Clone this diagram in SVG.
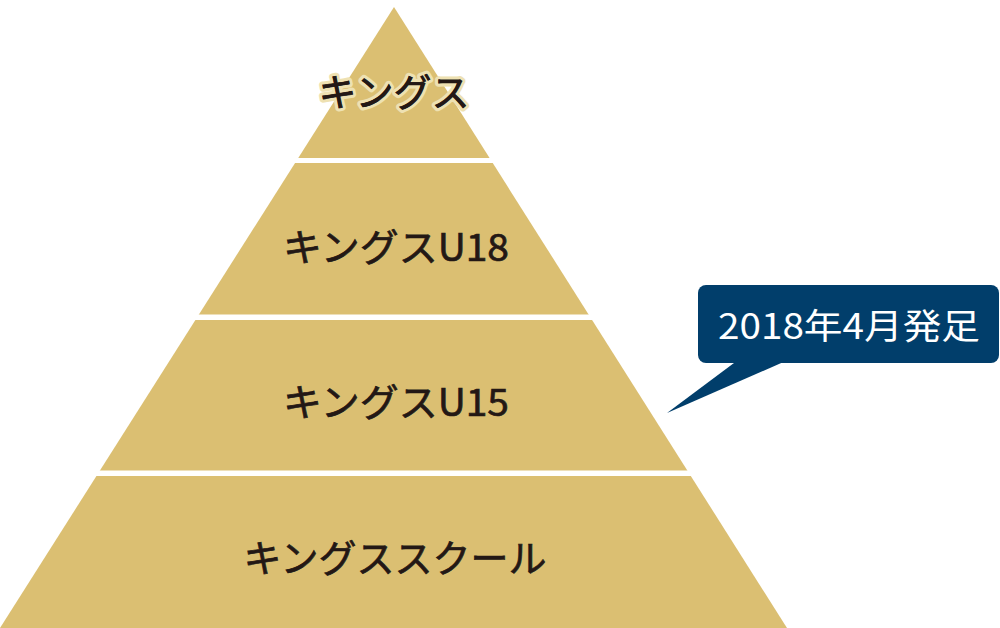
<svg xmlns="http://www.w3.org/2000/svg" width="1000" height="628" viewBox="0 0 1000 628">
<style>
.lbl{font-family:"Noto Sans CJK JP","Noto Sans",sans-serif;font-weight:400;font-size:38px;fill:#231815;stroke:#231815;stroke-width:0.7;text-anchor:middle}
.gap{fill:#ffffff}
.tier{fill:#dbbf72}
</style>
<g id="pyramid">
<polygon class="tier" points="394,7 787,628 0,628"/>
<rect class="gap" x="0" y="158" width="800" height="5"/>
<rect class="gap" x="0" y="314.5" width="800" height="5.5"/>
<rect class="gap" x="0" y="470.5" width="800" height="5.5"/>
</g>
<g id="tier1"><text class="lbl" x="394" y="106" stroke="#eee1b2" style="stroke:#eee1b2;stroke-width:7;stroke-linejoin:round;paint-order:stroke">キングス</text><text class="lbl" x="394" y="106">キングス</text></g>
<g id="tier2"><text class="lbl" x="396" y="261" textLength="226" lengthAdjust="spacingAndGlyphs">キングスU18</text></g>
<g id="tier3"><text class="lbl" x="396" y="416" textLength="226" lengthAdjust="spacingAndGlyphs">キングスU15</text></g>
<g id="tier4"><text class="lbl" x="395" y="572">キングススクール</text></g>
<g id="callout">
<rect x="698" y="285" width="301" height="78" rx="8" fill="#013e6b"/>
<polygon points="738,360 788,360 667,413" fill="#013e6b"/>
<text x="849" y="339" font-family="Noto Sans CJK JP,Noto Sans,sans-serif" font-size="35" fill="#ffffff" text-anchor="middle" textLength="262" lengthAdjust="spacingAndGlyphs">2018年4月発足</text>
</g>
</svg>
